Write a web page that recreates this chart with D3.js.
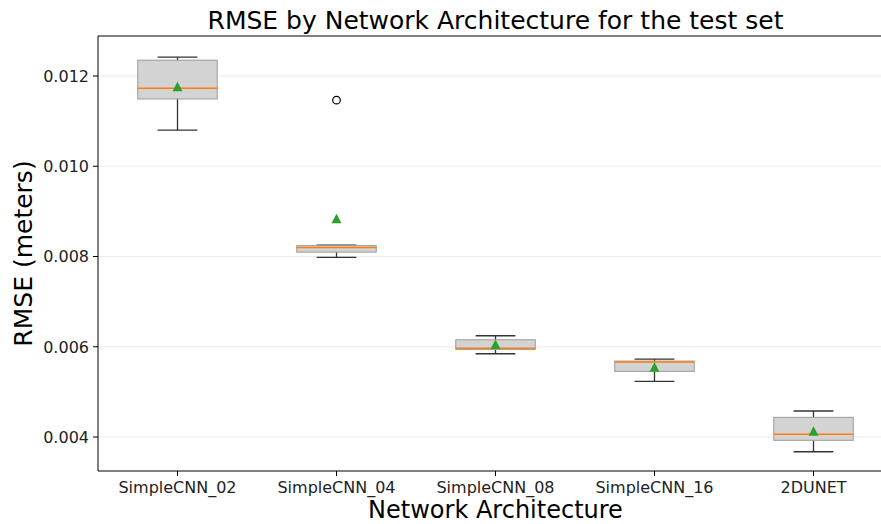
<!DOCTYPE html>
<html><head><meta charset="utf-8">
<script src="https://cdn.jsdelivr.net/npm/d3@7"></script>
<style>body{margin:0;background:#fff;} text{font-family:"DejaVu Sans",sans-serif;}</style>
</head><body><svg id="c" width="881" height="524"></svg>
<script>
const categories = ["SimpleCNN_02","SimpleCNN_04","SimpleCNN_08","SimpleCNN_16","2DUNET"];
const whiskerLow  = [0.01080, 0.00798, 0.005845, 0.005234, 0.003674];
const q1          = [0.01149, 0.008097, 0.005942, 0.005455, 0.003927];
const medians     = [0.01173, 0.008201, 0.005965, 0.005661, 0.004060];
const q3          = [0.01235, 0.008241, 0.006155, 0.005683, 0.004436];
const whiskerHigh = [0.012416, 0.008252, 0.006244, 0.005728, 0.004576];
const means       = [0.01175, 0.008828, 0.006038, 0.005535, 0.004117];
const outliers    = [[], [0.011464], [], [], []];
const yTicks = [0.004, 0.006, 0.008, 0.010, 0.012];

const svg = d3.select("#c");
svg.append("rect").attr("width",881).attr("height",524).attr("fill","#fff");
const L=98, R=893, T=36, B=471;
const x = d3.scaleLinear().domain([0.5, 5.5]).range([L, R]);
const y = d3.scaleLinear().domain([0.003247, 0.012886]).range([B, T]);

svg.append("g").selectAll("line").data(yTicks).join("line")
  .attr("x1",L).attr("x2",881).attr("y1",d=>y(d)).attr("y2",d=>y(d))
  .attr("stroke","#e6e6e6").attr("stroke-width",0.8);

const g = svg.append("g");
categories.forEach((c,i)=>{
  const cx = x(i+1), hw = x(1.25)-x(1), cw = x(1.125)-x(1);
  g.append("line").attr("x1",cx).attr("x2",cx).attr("y1",y(whiskerLow[i])).attr("y2",y(q1[i])).attr("stroke","#333").attr("stroke-width",1.3);
  g.append("line").attr("x1",cx).attr("x2",cx).attr("y1",y(whiskerHigh[i])).attr("y2",y(q3[i])).attr("stroke","#333").attr("stroke-width",1.3);
  g.append("line").attr("x1",cx-cw).attr("x2",cx+cw).attr("y1",y(whiskerLow[i])).attr("y2",y(whiskerLow[i])).attr("stroke","#333").attr("stroke-width",1.3);
  g.append("line").attr("x1",cx-cw).attr("x2",cx+cw).attr("y1",y(whiskerHigh[i])).attr("y2",y(whiskerHigh[i])).attr("stroke","#333").attr("stroke-width",1.3);
  g.append("rect").attr("x",cx-hw).attr("width",2*hw).attr("y",y(q3[i])).attr("height",Math.max(1,y(q1[i])-y(q3[i])))
    .attr("fill","#d3d3d3").attr("stroke","#9a9a9a").attr("stroke-width",1);
  g.append("line").attr("x1",cx-hw).attr("x2",cx+hw).attr("y1",y(medians[i])).attr("y2",y(medians[i])).attr("stroke","#ff7f0e").attr("stroke-width",1.5);
  g.append("path").attr("transform",`translate(${cx},${y(means[i])})`)
    .attr("d","M0,-5.5L5,4L-5,4Z").attr("fill","#2ca02c");
  outliers[i].forEach(o=>{
    g.append("circle").attr("cx",cx).attr("cy",y(o)).attr("r",3.8).attr("fill","none").attr("stroke","#000").attr("stroke-width",1.2);
  });
});

svg.append("line").attr("x1",L).attr("x2",L).attr("y1",T).attr("y2",B).attr("stroke","#000").attr("stroke-width",1);
svg.append("line").attr("x1",L).attr("x2",881).attr("y1",T).attr("y2",T).attr("stroke","#000").attr("stroke-width",1);
svg.append("line").attr("x1",L).attr("x2",881).attr("y1",B).attr("y2",B).attr("stroke","#000").attr("stroke-width",1);

const yg = svg.append("g");
yTicks.forEach(t=>{
  yg.append("line").attr("x1",L-5).attr("x2",L).attr("y1",y(t)).attr("y2",y(t)).attr("stroke","#000");
  yg.append("text").attr("x",L-9).attr("y",y(t)).attr("dy","0.36em").attr("text-anchor","end")
    .attr("font-size",16).attr("fill","#222").text(t.toFixed(3));
});
categories.forEach((c,i)=>{
  svg.append("line").attr("x1",x(i+1)).attr("x2",x(i+1)).attr("y1",B).attr("y2",B+5).attr("stroke","#000");
  svg.append("text").attr("x",x(i+1)).attr("y",B+22).attr("text-anchor","middle").attr("font-size",16).attr("fill","#222").text(c);
});

svg.append("text").attr("x",(L+R)/2).attr("y",29).attr("text-anchor","middle").attr("font-size",25).attr("fill","#000")
  .text("RMSE by Network Architecture for the test set");
svg.append("text").attr("x",(L+R)/2).attr("y",518).attr("text-anchor","middle").attr("font-size",24).attr("fill","#000")
  .text("Network Architecture");
svg.append("text").attr("transform",`translate(32,${(T+B)/2}) rotate(-90)`).attr("text-anchor","middle").attr("font-size",25).attr("fill","#000")
  .text("RMSE (meters)");
</script></body></html>
